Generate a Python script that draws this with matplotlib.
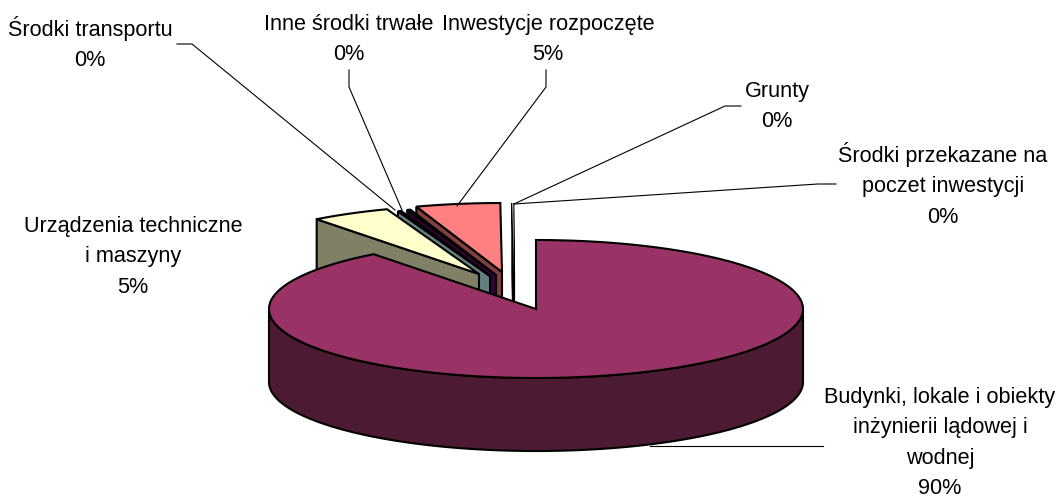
import numpy as np
import matplotlib
matplotlib.use('Agg')
import matplotlib.pyplot as plt

plt.rcParams['font.family'] = ['Liberation Sans', 'DejaVu Sans']

# share of each item in percent, clockwise from 12 o'clock
categories = ['Budynki, lokale i obiekty\ninżynierii lądowej i\nwodnej',
              'Urządzenia techniczne\ni maszyny',
              'Środki transportu',
              'Inne środki trwałe',
              'Inwestycje rozpoczęte',
              'Grunty',
              'Środki przekazane na\npoczet inwestycji']
shares = [89.6, 4.8, 0.2, 0.2, 5.1, 0.05, 0.05]
top_colors = ['#993366', '#FFFFCC', '#CCFFFF', '#660066', '#FF8080', '#FFFFFF', '#FFFFFF']
side_colors = ['#4D1A33', '#808066', '#668080', '#330033', '#804040', '#FFFFFF', '#FFFFFF']

# pie shape, in pixels
cx, cy = 536, 309
rx, ry = 267, 69
depth = 73
offsets = [(0, 0), (-57, -35), (-46, -33), (-40, -34), (-34, -37), (-22, -37), (-22, -37)]

# label centre x, top of first line
label_pos = [(940, 387), (133, 216), (90, 16), (349, 14), (548, 14), (777, 81), (943, 142)]
# leader lines
leaders = [[(823, 446), (650, 446)],
           [],
           [(177, 44), (192, 44), (395, 210)],
           [(349, 70), (349, 87), (402, 210)],
           [(546, 70), (546, 87), (457, 206)],
           [(741, 106), (725, 106), (514, 204)],
           [(836, 184), (818, 184), (514, 204)]]


def arc(x0, y0, a1, a2, n=200):
    t = np.radians(np.linspace(a1, a2, n))
    return np.column_stack([x0 + rx * np.cos(t), y0 - ry * np.sin(t)])


fig = plt.figure(figsize=(10.59, 4.99), dpi=100)
ax = fig.add_axes([0, 0, 1, 1])
ax.set_xlim(0, 1059)
ax.set_ylim(499, 0)
ax.axis('off')

lw = 1.5
spans = np.cumsum([0] + shares) * 3.6
starts = 90 - spans[:-1]
ends = 90 - spans[1:]

# back slices first, the big one goes on top
for i in range(len(shares) - 1, 0, -1):
    x0 = cx + offsets[i][0]
    y0 = cy + offsets[i][1]
    outer = arc(x0, y0, starts[i] + 360, ends[i] + 360, 40)
    side = np.array([outer[0], (x0, y0), (x0, y0 + depth), outer[0] + (0, depth)])
    z = 10 - i
    ax.fill(side[:, 0], side[:, 1], fc=side_colors[i], ec='black', lw=lw, zorder=z)
    top = np.vstack([[(x0, y0)], outer])
    ax.fill(top[:, 0], top[:, 1], fc=top_colors[i],
            ec='none' if top_colors[i] == '#FFFFFF' else 'black', lw=lw, zorder=z)

# big slice
front = arc(cx, cy, 180, 360)
wall = np.vstack([front, (front + (0, depth))[::-1]])
ax.fill(wall[:, 0], wall[:, 1], fc=side_colors[0], ec='black', lw=lw, zorder=20)
top = np.vstack([[(cx, cy)], arc(cx, cy, starts[0], ends[0], 400)])
ax.fill(top[:, 0], top[:, 1], fc=top_colors[0], ec='black', lw=lw, zorder=21)

for pts in leaders:
    if pts:
        p = np.array(pts)
        ax.plot(p[:, 0], p[:, 1], color='black', lw=0.8, zorder=30)

for name, share, (lx, ly) in zip(categories, shares, label_pos):
    ax.text(lx, ly, f'{name}\n{share:.0f}%', ha='center', va='top', fontsize=15.6,
            linespacing=1.58, color='black', zorder=40)

fig.savefig('out.png', dpi=100)
